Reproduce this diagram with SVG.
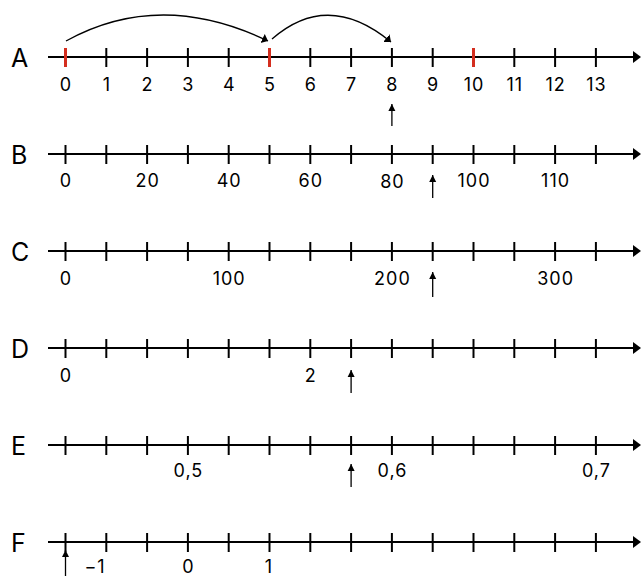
<svg xmlns="http://www.w3.org/2000/svg" width="641" height="576" viewBox="0 0 641 576">
<style>
.ax{stroke:#000;stroke-width:2;fill:none}
.tk{stroke:#000;stroke-width:2}
.rd{stroke:#d42e1f;stroke-width:3}
.lb{font-family:Inter,"Liberation Sans",sans-serif;font-size:18px;fill:#000;text-anchor:middle;letter-spacing:1px}
.row{font-family:Inter,"Liberation Sans",sans-serif;font-size:25px;fill:#000}
.pt{stroke:#000;stroke-width:1.3;fill:none}
</style>
<defs>
<marker id="big" markerWidth="8" markerHeight="12" refX="6" refY="5" orient="auto" markerUnits="userSpaceOnUse" viewBox="0 0 8 10">
<path d="M0,0 L6,5 L0,10 Z" fill="#000"/>
</marker>
<marker id="sm" markerWidth="8" markerHeight="8" refX="7" refY="3.5" orient="auto" markerUnits="userSpaceOnUse" viewBox="0 0 8 7">
<path d="M0,0 L7,3.5 L0,7 Z" fill="#000"/>
</marker>
<g id="ticks">
<line class="tk" x1="65.5" y1="-9" x2="65.5" y2="10"/>
<line class="tk" x1="106.3" y1="-9" x2="106.3" y2="10"/>
<line class="tk" x1="147.1" y1="-9" x2="147.1" y2="10"/>
<line class="tk" x1="187.9" y1="-9" x2="187.9" y2="10"/>
<line class="tk" x1="228.7" y1="-9" x2="228.7" y2="10"/>
<line class="tk" x1="269.5" y1="-9" x2="269.5" y2="10"/>
<line class="tk" x1="310.3" y1="-9" x2="310.3" y2="10"/>
<line class="tk" x1="351.1" y1="-9" x2="351.1" y2="10"/>
<line class="tk" x1="391.9" y1="-9" x2="391.9" y2="10"/>
<line class="tk" x1="432.7" y1="-9" x2="432.7" y2="10"/>
<line class="tk" x1="473.5" y1="-9" x2="473.5" y2="10"/>
<line class="tk" x1="514.3" y1="-9" x2="514.3" y2="10"/>
<line class="tk" x1="555.1" y1="-9" x2="555.1" y2="10"/>
<line class="tk" x1="595.9" y1="-9" x2="595.9" y2="10"/>
<line class="ax" x1="48" y1="0" x2="634" y2="0"/>
<path d="M633,-6 L641,0 L633,6 Z" fill="#000"/>
</g>
</defs>

<g id="line-A">
<text class="row" x="11" y="67">A</text>
<use href="#ticks" transform="translate(0,57)"/>
<line class="rd" x1="65.5" y1="48" x2="65.5" y2="67"/>
<line class="rd" x1="269.5" y1="48" x2="269.5" y2="67"/>
<line class="rd" x1="473.5" y1="48" x2="473.5" y2="67"/>
<text class="lb" x="66" y="91">0</text>
<text class="lb" x="106.8" y="91">1</text>
<text class="lb" x="147.6" y="91">2</text>
<text class="lb" x="188.4" y="91">3</text>
<text class="lb" x="229.2" y="91">4</text>
<text class="lb" x="270" y="91">5</text>
<text class="lb" x="310.8" y="91">6</text>
<text class="lb" x="351.6" y="91">7</text>
<text class="lb" x="392.4" y="91">8</text>
<text class="lb" x="433.2" y="91">9</text>
<text class="lb" x="474" y="91">10</text>
<text class="lb" x="514.8" y="91">11</text>
<text class="lb" x="555.6" y="91">12</text>
<text class="lb" x="596.4" y="91">13</text>
</g>

<g id="line-B">
<text class="row" x="11" y="164">B</text>
<use href="#ticks" transform="translate(0,154)"/>
<text class="lb" x="66" y="187">0</text>
<text class="lb" x="147.6" y="187">20</text>
<text class="lb" x="229.2" y="187">40</text>
<text class="lb" x="310.8" y="187">60</text>
<text class="lb" x="392.4" y="188">80</text>
<text class="lb" x="474" y="187">100</text>
<text class="lb" x="555.6" y="187">110</text>
</g>

<g id="line-C">
<text class="row" x="11" y="261">C</text>
<use href="#ticks" transform="translate(0,251)"/>
<text class="lb" x="66" y="285">0</text>
<text class="lb" x="229.2" y="285">100</text>
<text class="lb" x="392.4" y="285">200</text>
<text class="lb" x="555.6" y="285">300</text>
</g>

<g id="line-D">
<text class="row" x="11" y="358">D</text>
<use href="#ticks" transform="translate(0,348)"/>
<text class="lb" x="66" y="382">0</text>
<text class="lb" x="310.8" y="382">2</text>
</g>

<g id="line-E">
<text class="row" x="11" y="455">E</text>
<use href="#ticks" transform="translate(0,445)"/>
<text class="lb" x="188.4" y="477">0,5</text>
<text class="lb" x="392.4" y="477">0,6</text>
<text class="lb" x="596.4" y="477">0,7</text>
</g>

<g id="line-F">
<text class="row" x="11" y="552">F</text>
<use href="#ticks" transform="translate(0,542)"/>
<text class="lb" x="95" y="573">−1</text>
<text class="lb" x="188.4" y="573">0</text>
<text class="lb" x="269" y="573">1</text>
</g>

<g id="connectors">
<path class="pt" d="M66,41 Q160,-11 268,41" marker-end="url(#big)"/>
<path class="pt" d="M272,39 Q328,-10 391,42" marker-end="url(#big)"/>
<line class="pt" x1="391.9" y1="126" x2="391.9" y2="104" marker-end="url(#sm)"/>
<line class="pt" x1="432.7" y1="198" x2="432.7" y2="175" marker-end="url(#sm)"/>
<line class="pt" x1="432.7" y1="297" x2="432.7" y2="272" marker-end="url(#sm)"/>
<line class="pt" x1="351.1" y1="393" x2="351.1" y2="370" marker-end="url(#sm)"/>
<line class="pt" x1="351.1" y1="487" x2="351.1" y2="464" marker-end="url(#sm)"/>
<line class="pt" x1="65.5" y1="576" x2="65.5" y2="550" marker-end="url(#sm)"/>
</g>
</svg>
